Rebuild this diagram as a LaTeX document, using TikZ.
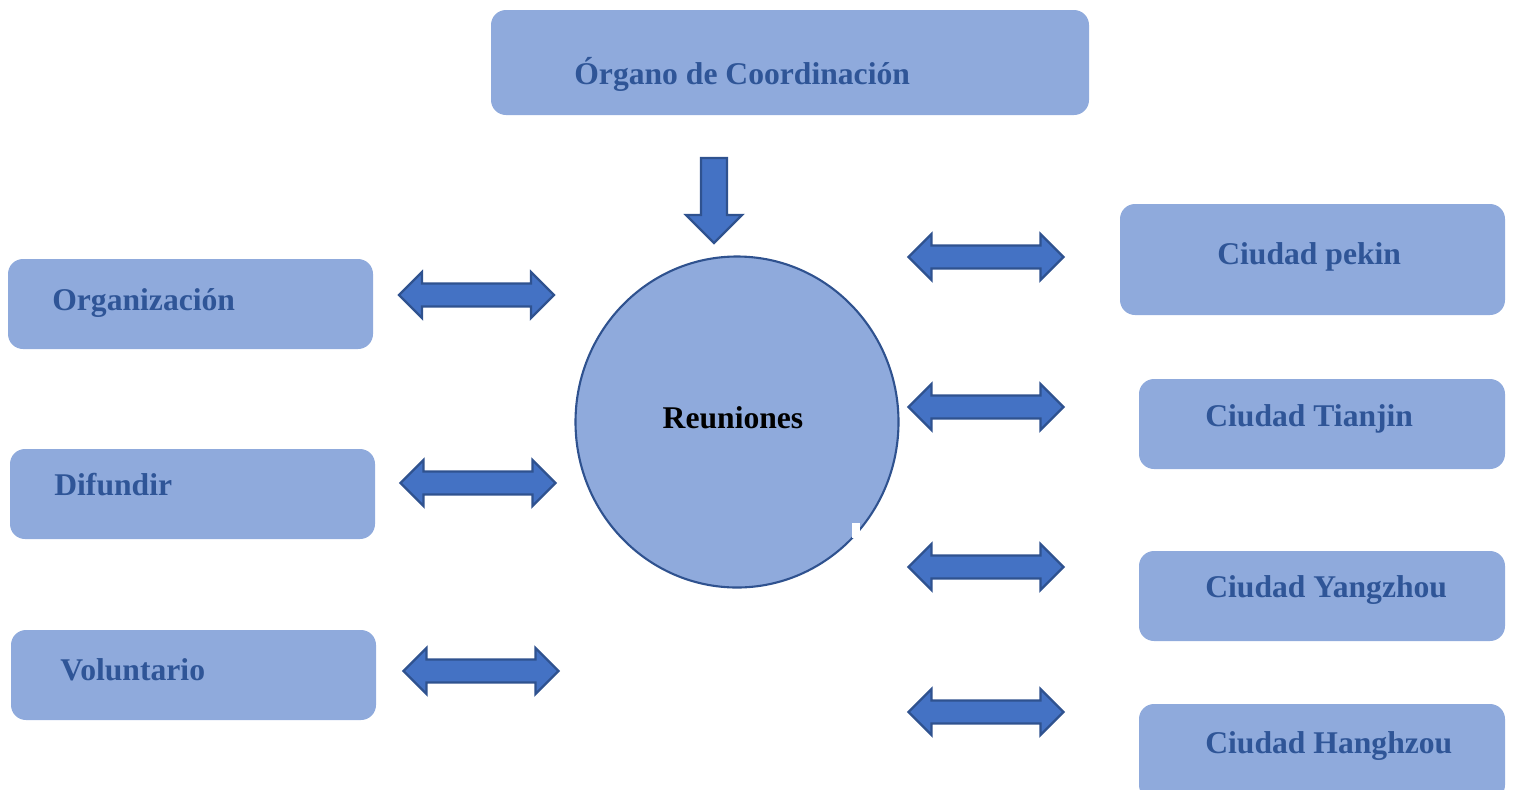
\documentclass[tikz,border=0pt]{standalone}
\usepackage{fontspec}
\setmainfont{Liberation Serif}
\definecolor{boxfill}{HTML}{8FAADC}
\definecolor{txtblue}{HTML}{2F5597}
\definecolor{arrfill}{HTML}{4472C4}
\definecolor{arrline}{HTML}{2F528F}
\tikzset{
  box/.style={fill=boxfill, draw=none, rounded corners=0.3cm},
  lbl/.style={anchor=base west, inner sep=0pt, text=txtblue, font=\fontsize{18}{21}\selectfont\bfseries},
  arrshape/.style={draw=arrline, line width=1.3pt, fill=arrfill, line join=miter},
  dbl/.pic={\draw[arrshape] (-77.5,0) -- (-54.5,-23) -- (-54.5,-11.5) -- (54.5,-11.5) -- (54.5,-23) -- (77.5,0)
      -- (54.5,23) -- (54.5,11.5) -- (-54.5,11.5) -- (-54.5,23) -- cycle;},
  dwn/.pic={\draw[arrshape] (-13,0) -- (13,0) -- (13,57) -- (28,57) -- (0,85) -- (-28,57) -- (-13,57) -- cycle;},
}
\begin{document}
\begin{tikzpicture}[x=0.02cm, y=-0.02cm]
\useasboundingbox (0,0) rectangle (1514,789);
\clip (0,0) rectangle (1514,789);
% boxes
\fill[box] (491,10) rectangle (1089,115);
\node[lbl] (organo) at (574,84) {Órgano de Coordinación};

\fill[box] (8,259) rectangle (373,349);
\node[lbl] (org) at (52,310) {Organización};
\fill[box] (10,449) rectangle (375,539);
\node[lbl] (dif) at (54,495) {Difundir};
\fill[box] (11,630) rectangle (376,720);
\node[lbl] (vol) at (60,680) {Voluntario};

\fill[box] (1120,204) rectangle (1505,315);
\node[lbl] (pekin) at (1217,264) {Ciudad pekin};
\fill[box] (1139,379) rectangle (1505,469);
\node[lbl] (tianjin) at (1205,426) {Ciudad Tianjin};
\fill[box] (1139,551) rectangle (1505,641);
\node[lbl] (yang) at (1205,597) {Ciudad Yangzhou};
\fill[box] (1139,704) rectangle (1505,800);
\node[lbl] (hang) at (1205,753) {Ciudad Hanghzou};

% circle
\draw[fill=boxfill, draw=arrline, line width=1.2pt] (737,422) ellipse [x radius=161.5, y radius=165.5];
\fill[white] (852,523) rectangle (860,538);
\node[anchor=base, inner sep=0pt, font=\fontsize{18}{21}\selectfont\bfseries] (reu) at (733,428) {Reuniones};

% arrows
\pic (down) at (714,158) {dwn};
\pic (a1) at (476.5,295) {dbl};
\pic (a2) at (478,483) {dbl};
\pic (a3) at (481,671) {dbl};
\pic (b1) at (986,257) {dbl};
\pic (b2) at (986,407) {dbl};
\pic (b3) at (986,567) {dbl};
\pic (b4) at (986,712) {dbl};
\end{tikzpicture}
\end{document}
